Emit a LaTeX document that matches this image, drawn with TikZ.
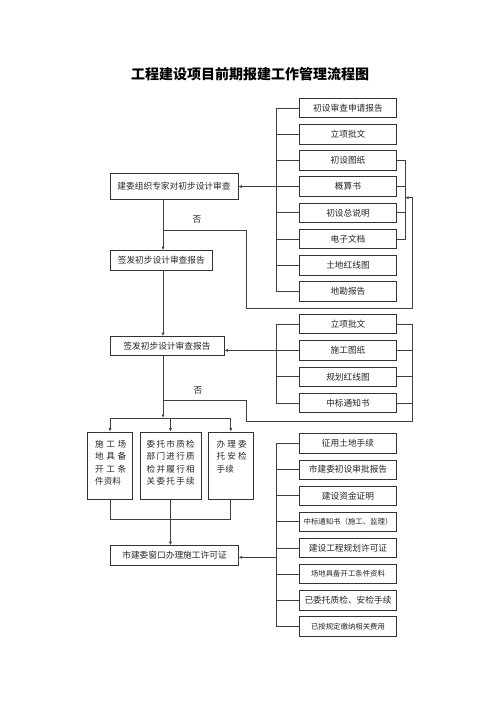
\documentclass[tikz,border=0pt]{standalone}
\usepackage{fontspec}
\setmainfont{Noto Sans CJK SC}
\usetikzlibrary{arrows.meta}
\begin{document}
\begin{tikzpicture}[x=1pt,y=-1pt,
  box/.style={draw=black!80, line width=0.7pt, fill=white, minimum width=97.5pt, minimum height=19.5pt, inner sep=0pt, font=\fontsize{8.7}{10}\selectfont, text=black!85},
  sbox/.style={box, font=\fontsize{7.4}{9}\selectfont},
  tbox/.style={draw=black!80, line width=0.7pt, minimum height=67pt, inner sep=0pt},
  btext/.style={anchor=north west, inner sep=0pt, align=left, font=\fontsize{8.6}{12.5}\selectfont, text=black!85},
  ln/.style={draw=black!75, line width=0.7pt},
  arr/.style={ln, -{Latex[length=3.5pt,width=3pt]}},
  lbl/.style={font=\fontsize{8.7}{10}\selectfont, text=black!85}]
\useasboundingbox (0,0) rectangle (500,708);

\node[font=\fontsize{14}{16}\selectfont\bfseries] (title) at (250,74) {工程建设项目前期报建工作管理流程图};

\coordinate (gl) at (276.7,0);
\coordinate (sp) at (163,0);

% group 1
\node[box] (a1) at (348,108) {初设审查申请报告};
\node[box] (a2) at (348,134.2) {立项批文};
\node[box] (a3) at (348,160.4) {初设图纸};
\node[box] (a4) at (348,186.6) {概算书};
\node[box] (a5) at (348,212.8) {初设总说明};
\node[box] (a6) at (348,239) {电子文档};
\node[box] (a7) at (348,265.2) {土地红线图};
\node[box] (a8) at (348,291.4) {地勘报告};

\draw[ln] (a1.west) -| (gl |- a8.west) -- (a8.west);
\foreach \n in {2,3,5,6,7} \draw[ln] (a\n.west) -- (a\n.west -| gl);
\coordinate (g1r) at (405,0);
\draw[ln] (a3.east) -| (g1r |- a6.east) -- (a6.east);
\foreach \n in {4,5} \draw[ln] (a\n.east) -- (a\n.east -| g1r);

\node[box, minimum width=128pt, minimum height=26pt] (L1) at (174,186.6) {建委组织专家对初步设计审查};
\draw[arr] (a4.west) -- (a4.west -| L1.east);

\node[box, minimum width=102.7pt] (L2) at (161.3,260.3) {签发初步设计审查报告};
\draw[arr] (sp |- L1.south) -- (sp |- L2.north);

\coordinate (n1) at (163,230.7);
\coordinate (n1a) at (246.7,230.7);
\coordinate (n1b) at (246.7,308.3);
\coordinate (n1c) at (412,308.3);
\coordinate (n1d) at (412,197.7);
\draw[arr] (n1) -- (n1a) -- (n1b) -- (n1c) -- (n1d) -- (n1d -| g1r);
\node[lbl] (no1) at (197,219.5) {否};

% group 2
\node[box, minimum width=114pt, minimum height=19pt] (L3) at (167,346) {签发初步设计审查报告};
\draw[arr] (sp |- L2.south) -- (sp |- L3.north);

\node[box] (b1) at (348,324) {立项批文};
\node[box] (b2) at (348,350.4) {施工图纸};
\node[box] (b3) at (348,376.7) {规划红线图};
\node[box] (b4) at (348,403) {中标通知书};

\draw[ln] (b1.west) -| (gl |- b4.west) -- (b4.west);
\foreach \n in {3} \draw[ln] (b\n.west) -- (b\n.west -| gl);
\draw[arr] (b2.west) -- (b2.west -| L3.east);

\coordinate (g2r) at (412,0);
\coordinate (n2) at (163,400);
\coordinate (n2a) at (246.7,400);
\coordinate (n2b) at (246.7,421);
\draw[ln] (b1.east) -| (g2r |- n2b) -- (n2b) -- (n2a) -- (n2);
\foreach \n in {2,3,4} \draw[ln] (b\n.east) -- (b\n.east -| g2r);
\node[lbl] (no2) at (198,390.5) {否};

% branch
\coordinate (bar) at (0,418);
\node[tbox, minimum width=45.4pt] (A) at (110,465.5) {};
\node[tbox, minimum width=60.7pt] (B) at (170.5,465.5) {};
\node[tbox, minimum width=45pt] (C) at (230.8,465.5) {};
\draw[arr] (sp |- L3.south) -- (sp |- bar);
\draw[ln] (A |- bar) -- (C |- bar);
\draw[arr] (A |- bar) -- (A.north);
\draw[arr] (B |- bar) -- (B.north);
\draw[arr] (C |- bar) -- (C.north);

\node[btext] (At) at (95,440) {\hbox to 31pt{施\hfil 工\hfil 场}\\\hbox to 31pt{地\hfil 具\hfil 备}\\\hbox to 31pt{开\hfil 工\hfil 条}\\件资料};
\node[btext] (Bt) at (146.5,440) {\hbox to 48pt{委\hfil 托\hfil 市\hfil 质\hfil 检}\\\hbox to 48pt{部\hfil 门\hfil 进\hfil 行\hfil 质}\\\hbox to 48pt{检\hfil 并\hfil 履\hfil 行\hfil 相}\\\hbox to 48pt{关\hfil 委\hfil 托\hfil 手\hfil 续}};
\node[btext] (Ct) at (216.5,440) {\hbox to 30pt{办\hfil 理\hfil 委}\\\hbox to 30pt{托\hfil 安\hfil 检}\\手续};

% bottom
\coordinate (bar2) at (0,519.3);
\node[box, minimum width=127.6pt] (L4) at (174.5,555.3) {市建委窗口办理施工许可证};
\draw[ln] (A.south) -- (A |- bar2) -- (C |- bar2) -- (C.south);
\draw[arr] (B.south) -- (B |- L4.north);

% group 3
\node[box] (c1) at (348,443.5) {征用土地手续};
\node[box] (c2) at (348,469.6) {市建委初设审批报告};
\node[box] (c3) at (348,495.7) {建设资金证明};
\node[sbox] (c4) at (348,521.8) {中标通知书（施工、监理）};
\node[box] (c5) at (348,547.9) {建设工程规划许可证};
\node[sbox] (c6) at (348,574) {场地具备开工条件资料};
\node[box] (c7) at (348,600.1) {已委托质检、安检手续};
\node[sbox] (c8) at (348,626.2) {已按规定缴纳相关费用};

\draw[ln] (c1.west) -| (gl |- c8.west) -- (c8.west);
\foreach \n in {2,...,7} \draw[ln] (c\n.west) -- (c\n.west -| gl);
\coordinate (j3) at (276.7,557.3);
\draw[arr] (j3) -- (j3 -| L4.east);
\end{tikzpicture}
\end{document}
